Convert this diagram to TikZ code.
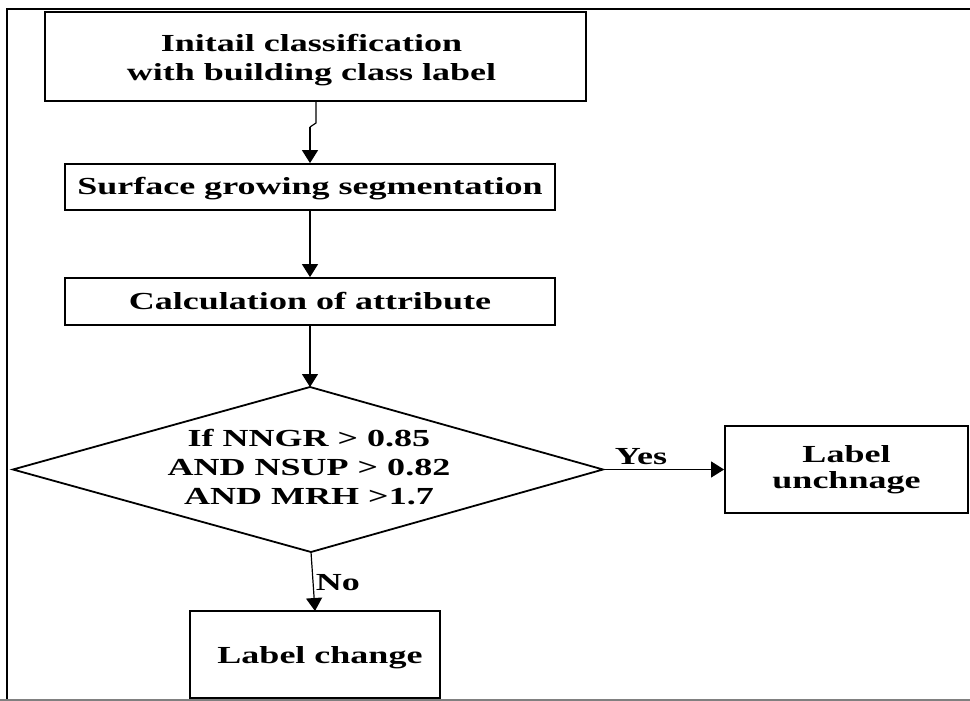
\documentclass[tikz,border=0pt]{standalone}
\usepackage{fontspec}
\setmainfont{Liberation Serif}[FakeStretch=1.47]
\usetikzlibrary{arrows.meta}
\begin{document}
\begin{tikzpicture}[x=1pt,y=-1pt,
  box/.style={draw,line width=1.8pt,inner sep=0pt,align=center,font=\fontsize{24.5}{29}\selectfont\bfseries},
  txt/.style={inner sep=0pt,align=center,font=\fontsize{24.5}{29}\selectfont\bfseries},
  conn/.style={line width=1.2pt,-{Triangle[length=13pt,width=16pt]}},
  frame/.style={line width=2.6pt}]
\useasboundingbox (0,0) rectangle (970,701);
% frame
\draw[frame] (7,701) -- (7,9) -- (970,9);
\draw[line width=2pt,gray] (0,699.5) -- (970,699.5);
% boxes
\node[box,minimum width=541pt,minimum height=89pt] (b1) at (315.5,56.5) {};
\node[txt] (t1) at ([xshift=-4pt,yshift=-3.5pt]b1.center) {Initail classification\\with building class label};
\node[box,minimum width=490pt,minimum height=46pt] (b2) at (310,187) {};
\node[txt] (t2) at ([yshift=-1.5pt]b2.center) {Surface growing segmentation};
\node[box,minimum width=490pt,minimum height=47pt] (b3) at (310,301.5) {Calculation of attribute};
% decision diamond
\coordinate (dt) at (310,387);
\coordinate (dr) at (603,469.5);
\coordinate (db) at (311,552);
\coordinate (dl) at (13,469.5);
\draw[line width=1.8pt,line join=miter] (dt) -- (dr) -- (db) -- (dl) -- cycle;
\node[txt] (dec) at (309,467) {If NNGR > 0.85\\AND NSUP > 0.82\\AND MRH >1.7};
\node[box,minimum width=243pt,minimum height=87pt,font=\fontsize{24.5}{26}\selectfont\bfseries] (b4) at (846.5,469.5) {Label\\unchnage};
\node[box,minimum width=250pt,minimum height=87pt] (b5) at (315,654.5) {};
\node[txt] (t5) at ([xshift=5pt,yshift=-3pt]b5.center) {Label change};
% connectors
\coordinate (j1) at (316,123);
\coordinate (j2) at (310,127);
\draw[line width=1.2pt] (b1.south -| j1) -- (j1) -- (j2);
\draw[conn] (j2) -- (b2.north -| j2);
\draw[conn] (b2.south -| j2) -- (b3.north -| j2);
\draw[conn] (b3.south -| dt) -- (dt);
\draw[conn] (dr) -- (b4.west);
\draw[conn] (db) -- (315,611) coordinate (b5top);
\node[txt] (yes) at (641,457) {Yes};
\node[txt] (no) at (338,583) {No};
\end{tikzpicture}
\end{document}
